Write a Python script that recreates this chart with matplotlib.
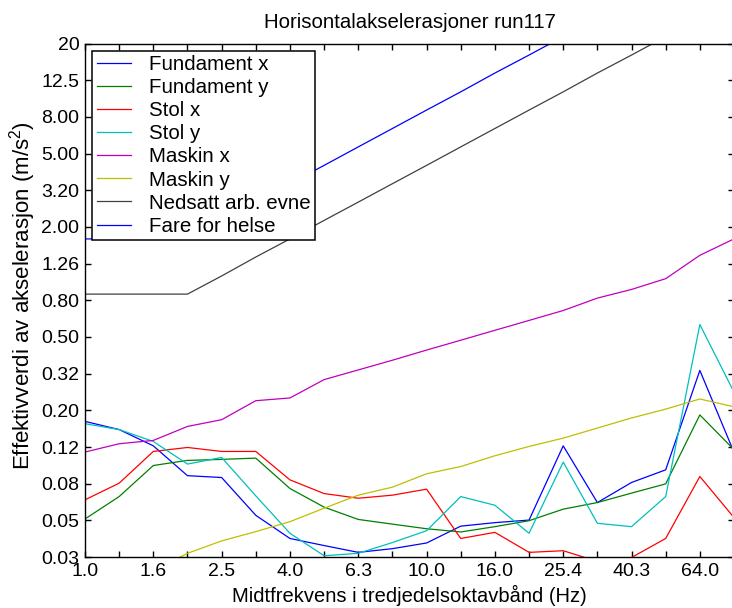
import numpy as np
import matplotlib
matplotlib.use('Agg')
import matplotlib.pyplot as plt

plt.rcParams['font.family'] = ['Liberation Sans', 'DejaVu Sans']
plt.rcParams['mathtext.fontset'] = 'custom'
plt.rcParams['mathtext.rm'] = 'Liberation Sans'
plt.rcParams['mathtext.it'] = 'Liberation Sans:italic'

# Tredjedelsoktavbånd (Hz)
band_hz = [1.0, 1.26, 1.6, 2.0, 2.5, 3.17, 4.0, 5.04, 6.3, 8.0,
           10.0, 12.7, 16.0, 20.2, 25.4, 32.0, 40.3, 50.8, 64.0, 80.6]

# Effektivverdier (m/s^2)
fund_x = [0.174, 0.157, 0.128, 0.088, 0.086, 0.0535, 0.040, 0.0366, 0.0336, 0.0352,
          0.0378, 0.0467, 0.0488, 0.0504, 0.128, 0.0628, 0.0808, 0.0947, 0.330, 0.118]
fund_y = [0.0511, 0.0677, 0.100, 0.1066, 0.108, 0.1097, 0.0749, 0.0593, 0.0508, 0.0479,
          0.0452, 0.0434, 0.0464, 0.0500, 0.0578, 0.0628, 0.0707, 0.0794, 0.1887, 0.122]
stol_x = [0.065, 0.0801, 0.1193, 0.1254, 0.1193, 0.1193, 0.0835, 0.0703, 0.0663, 0.0689,
          0.0743, 0.040, 0.0432, 0.0336, 0.0343, 0.030, 0.0315, 0.040, 0.0871, 0.052]
stol_y = [0.169, 0.157, 0.1352, 0.1018, 0.1106, 0.0683, 0.0427, 0.0322, 0.0332, 0.038,
          0.0441, 0.0677, 0.0607, 0.0427, 0.1044, 0.0484, 0.0464, 0.0677, 0.587, 0.251]
maskin_x = [0.1184, 0.1314, 0.137, 0.1633, 0.1777, 0.2256, 0.2335, 0.294, 0.332, 0.375,
            0.426, 0.482, 0.546, 0.618, 0.70, 0.818, 0.912, 1.044, 1.40, 1.72]
maskin_y = [0.021, 0.024, 0.0266, 0.0332, 0.0388, 0.0436, 0.0494, 0.0585, 0.0689, 0.0762,
            0.0901, 0.0987, 0.113, 0.127, 0.141, 0.160, 0.1816, 0.203, 0.2305, 0.209]

# Grensekurver
nedsatt = [0.86, 0.86, 0.86, 0.86, 1.08, 1.37, 1.72, 2.17, 2.73, 3.44,
           4.33, 5.46, 6.88, 8.67, 10.9, 13.8, 17.3, 21.8, 27.5, 34.7]
fare = [1.72, 1.72, 1.72, 1.72, 2.17, 2.73, 3.44, 4.33, 5.46, 6.88,
        8.67, 10.9, 13.8, 17.3, 21.8, 27.5, 34.7, 43.7, 55.0, 69.4]

ytick_vals = [0.0317, 0.0502, 0.0796, 0.126, 0.2, 0.317, 0.502, 0.796,
              1.26, 2.0, 3.17, 5.02, 7.96, 12.6, 20.0]
ytick_labels = ['0.03', '0.05', '0.08', '0.12', '0.20', '0.32', '0.50', '0.80',
                '1.26', '2.00', '3.20', '5.00', '8.00', '12.5', '20']

series = [
    (fund_x, 'Fundament x', '#0000ff'),
    (fund_y, 'Fundament y', '#008000'),
    (stol_x, 'Stol x', '#ff0000'),
    (stol_y, 'Stol y', '#00bfbf'),
    (maskin_x, 'Maskin x', '#bf00bf'),
    (maskin_y, 'Maskin y', '#bfbf00'),
    (nedsatt, 'Nedsatt arb. evne', '#404040'),
    (fare, 'Fare for helse', '#0000ff'),
]

x = np.arange(len(band_hz))

fig = plt.figure(figsize=(7.32, 6.08), dpi=100)
ax = fig.add_axes([85 / 732, 51 / 608, 649 / 732, 513.5 / 608])

for vals, name, col in series:
    ax.plot(x, vals, color=col, linewidth=0.9, label=name)

ax.set_yscale('log')
ax.set_ylim(0.0317, 20.0)
ax.set_xlim(0, len(band_hz) - 1)
ax.set_yticks(ytick_vals)
ax.set_yticklabels(ytick_labels)
ax.yaxis.set_minor_locator(matplotlib.ticker.NullLocator())
ax.set_xticks(x)
ax.set_xticklabels([f'{b:.1f}' if i % 2 == 0 else '' for i, b in enumerate(band_hz)])

ax.tick_params(direction='in', length=4, width=1, labelsize=14, pad=4,
               top=True, right=True)
for sp in ax.spines.values():
    sp.set_linewidth(1.0)

ax.set_title('Horisontalakselerasjoner run117', fontsize=14.7, pad=11)
ax.set_xlabel('Midtfrekvens i tredjedelsoktavbånd (Hz)', fontsize=14.5)
ax.set_ylabel('Effektivverdi av akselerasjon (m/s$^2$)', fontsize=16)
ax.xaxis.set_label_coords(0.5, -0.054)
ax.yaxis.set_label_coords(-0.072, 0.51)

leg = ax.legend(loc='upper left', bbox_to_anchor=(7 / 649, (513.5 - 7) / 513.5),
                borderaxespad=0, fontsize=14.8, handlelength=1.7, handletextpad=0.85,
                labelspacing=0.2, borderpad=0.22, fancybox=False, framealpha=1)
leg.get_frame().set_edgecolor('black')
leg.get_frame().set_linewidth(1.1)

fig.savefig('out.png', dpi=100)
